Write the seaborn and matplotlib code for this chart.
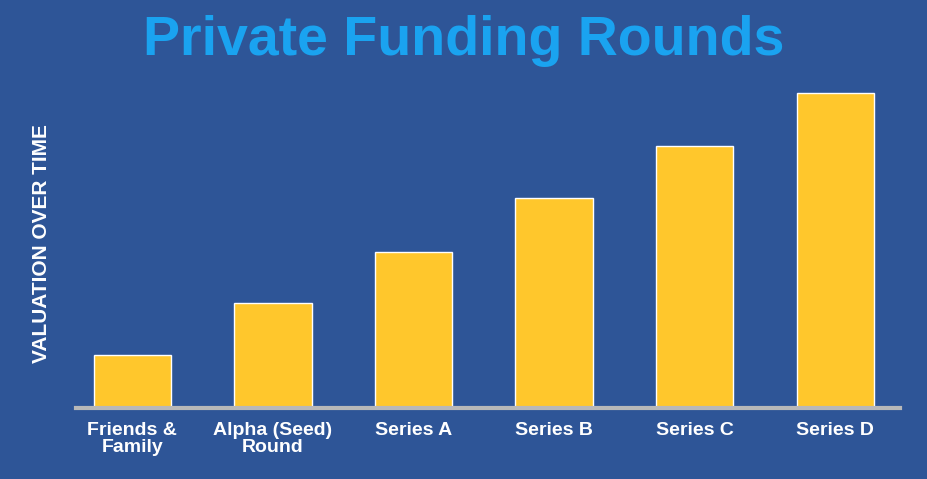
import matplotlib
matplotlib.use("Agg")
import matplotlib.pyplot as plt
import seaborn as sns
import pandas as pd

rondas = ["Friends &\nFamily", "Alpha (Seed)\nRound", "Series A", "Series B", "Series C", "Series D"]
valores = [53, 105, 156, 210, 262, 315]

fondo = "#2E5597"
amarillo = "#FFC72C"

sns.set_style("white")
plt.rcParams['font.family'] = ['Liberation Sans', 'DejaVu Sans']

df = pd.DataFrame({"ronda": rondas, "valor": valores})

fig = plt.figure(figsize=(9.27, 4.79), dpi=100, facecolor=fondo)
ax = fig.add_axes([0.082, 0.148, 0.889, 0.685])
ax.set_facecolor(fondo)

sns.barplot(data=df, x="ronda", y="valor", color=amarillo, saturation=1, width=0.55, ax=ax)

ax.set_xlim(-0.4, 5.46)
ax.set_ylim(0, 328)
for lado in ["top", "right", "left"]:
    ax.spines[lado].set_visible(False)
ax.spines["bottom"].set_color("#B8B8B8")
ax.spines["bottom"].set_linewidth(3)
ax.set_yticks([])
ax.tick_params(axis="x", length=0, pad=10, colors="white", labelsize=14)
for t in ax.get_xticklabels():
    t.set_fontweight("bold")
    t.set_linespacing(1.0)
ax.set_xlabel("")
ax.set_ylabel("VALUATION OVER TIME", color="white", fontsize=15, fontweight="bold", labelpad=18)

fig.text(0.5, 0.915, "Private Funding Rounds", ha="center", va="center",
         color="#1AA3F0", fontsize=40, fontweight="bold")

fig.savefig("out.png", dpi=100, facecolor=fondo)
